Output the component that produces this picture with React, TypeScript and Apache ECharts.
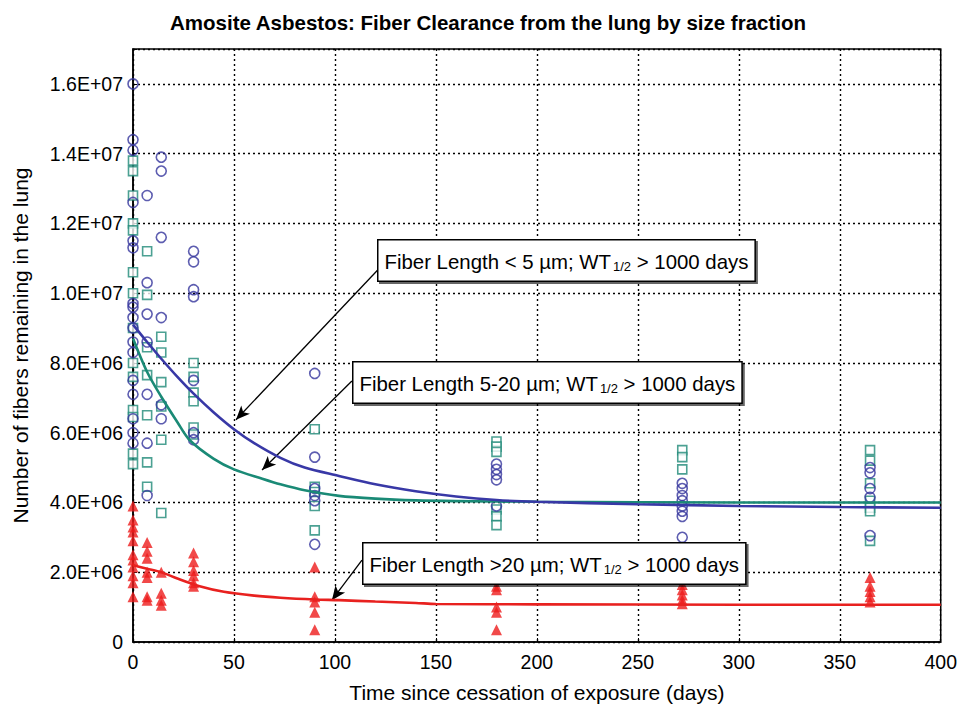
import React, { useEffect, useRef } from "react";
import * as echarts from "echarts";

// Sampling days (days since end of exposure)
const sampleDays = [0, 7, 14, 30, 90, 180, 272, 365];

// Fibers remaining (millions), one list per sampling day
const shortFibers = [
  [16.0, 14.4, 14.1, 12.6, 11.5, 11.3, 9.7, 9.6, 9.3, 9.0, 8.6, 8.3, 7.5, 7.1, 6.4, 6.0, 5.7],
  [12.8, 10.3, 9.4, 8.6, 7.1, 5.7, 4.2],
  [13.9, 13.5, 11.6, 9.3, 6.8, 6.4],
  [11.2, 10.9, 10.1, 9.9, 7.5, 6.0, 5.8],
  [7.7, 5.3, 4.4, 4.2, 4.05, 2.8],
  [5.1, 4.95, 4.8, 4.65, 3.9],
  [4.55, 4.4, 4.2, 4.05, 3.9, 3.75, 3.6, 3.0],
  [5.0, 4.85, 4.4, 4.15, 3.05],
];
const midFibers = [
  [13.8, 13.5, 12.8, 12.0, 11.8, 10.6, 10.0, 9.0, 8.0, 7.6, 6.65, 6.45, 5.4, 5.1],
  [11.2, 9.95, 8.45, 7.65, 6.5, 5.15, 4.45],
  [8.75, 8.3, 7.45, 6.75, 5.8, 3.7],
  [8.0, 7.6, 7.15, 6.9, 6.15, 5.95],
  [6.1, 4.45, 4.3, 3.9, 3.2],
  [5.75, 5.6, 5.45, 3.8, 3.6, 3.35],
  [5.5, 5.3, 4.95],
  [5.5, 5.2, 4.55, 4.05, 3.85, 3.75, 2.9],
];
const longFibers = [
  [3.9, 3.5, 3.3, 3.15, 2.9, 2.5, 2.35, 2.15, 1.9, 1.7, 1.3],
  [2.85, 2.6, 2.4, 2.0, 1.85, 1.3, 1.2],
  [2.0, 1.4, 1.2, 1.05],
  [2.55, 2.3, 2.05, 1.9, 1.7, 1.6],
  [2.15, 1.3, 1.15, 0.85, 0.35],
  [1.6, 1.5, 1.0, 0.85, 0.35],
  [1.65, 1.5, 1.35, 1.2, 1.1],
  [1.85, 1.6, 1.45, 1.3, 1.15],
];

// Fitted clearance curves (millions)
const shortCurveDays = [0, 7, 14, 22, 30, 40, 50, 60, 73, 85, 102, 120, 140, 160, 180, 200, 250, 300, 350, 400];
const shortCurve = [9.1, 8.6, 8.12, 7.6, 7.12, 6.58, 6.1, 5.7, 5.28, 5.0, 4.76, 4.52, 4.32, 4.17, 4.07, 4.02, 3.95, 3.9, 3.87, 3.85];
const midCurveDays = [0, 7, 14, 22, 28, 40, 50, 64, 73, 85, 102, 120, 140, 160, 200, 300, 400];
const midCurve = [8.7, 7.74, 7.03, 6.3, 5.79, 5.25, 4.95, 4.68, 4.52, 4.35, 4.19, 4.11, 4.06, 4.04, 4.02, 4.0, 4.0];
const longCurveDays = [0, 7, 14, 22, 33, 45, 60, 73, 90, 102, 120, 140, 150, 200, 300, 400];
const longCurve = [2.2, 2.1, 2.0, 1.82, 1.6, 1.44, 1.33, 1.27, 1.22, 1.2, 1.16, 1.12, 1.09, 1.08, 1.07, 1.07];

// Annotation arrows: [fromDay, fromValue, toDay, toValue]
const arrows = [
  [121.3, 10.67, 51, 6.37],
  [108.4, 7.48, 63.9, 4.93],
  [113.4, 2.35, 98.5, 1.2],
];

const FONT = "'Liberation Sans', Arial, sans-serif";

function pairs(groups: number[][]) {
  const out: number[][] = [];
  groups.forEach((vals, i) => vals.forEach((v) => out.push([sampleDays[i], v])));
  return out;
}
function curve(days: number[], vals: number[]) {
  return days.map((d, i) => [d, vals[i]]);
}
function sci(v: number) {
  if (v === 0) return "0";
  if (Math.abs(v % 2) > 1e-9) return "";
  const n = v * 1e6;
  const e = Math.floor(Math.log10(n) + 1e-9);
  const m = n / Math.pow(10, e);
  return m.toFixed(1) + "E+" + String(e).padStart(2, "0");
}

function boxText(label: string, left: number, top: number) {
  return {
    type: "text",
    left,
    top,
    z: 100,
    style: {
      text: `{a|${label}}{s|1/2}{a| > 1000 days}`,
      backgroundColor: "#fff",
      borderColor: "#000",
      borderWidth: 1.5,
      padding: [8, 6, 6, 6],
      shadowColor: "rgba(0,0,0,0.6)",
      shadowOffsetX: 2,
      shadowOffsetY: 2,
      rich: {
        a: { fontFamily: FONT, fontSize: 20.4, color: "#000", lineHeight: 26 },
        s: { fontFamily: FONT, fontSize: 13, color: "#000", lineHeight: 26, padding: [10, 0, 0, 2] },
      },
    },
  };
}

export default function App() {
  const ref = useRef<HTMLDivElement>(null);
  useEffect(() => {
    if (!ref.current) return;
    const chart = echarts.init(ref.current, null, { renderer: "svg" });
    const dotted = { color: "#000", width: 1.4, type: [2, 3] as any };
    const lineBase = { type: "line", smooth: 0.3, showSymbol: false, symbol: "none" };
    chart.setOption({
      animation: false,
      backgroundColor: "#fff",
      title: {
        text: "Amosite Asbestos: Fiber Clearance from the lung by size fraction",
        left: 483,
        top: 7,
        textAlign: "center",
        textStyle: { fontFamily: FONT, fontSize: 20.5, fontWeight: "bold", color: "#000" },
      },
      grid: { left: 133, right: 19, top: 49, bottom: 66, show: true, borderColor: "#000", borderWidth: 1.5, backgroundColor: "transparent" },
      xAxis: {
        type: "value",
        min: 0,
        max: 400,
        interval: 50,
        name: "Time since cessation of exposure (days)",
        nameLocation: "middle",
        nameGap: 40,
        nameTextStyle: { fontFamily: FONT, fontSize: 21, color: "#000" },
        axisLine: { show: true, lineStyle: { color: "#000", width: 1.5 } },
        axisTick: { show: true, inside: true, length: 4, lineStyle: { color: "#000" } },
        axisLabel: { fontFamily: FONT, fontSize: 19.5, color: "#000", margin: 10 },
        splitLine: { show: true, lineStyle: dotted },
      },
      yAxis: {
        type: "value",
        min: 0,
        max: 17,
        interval: 2,
        name: "Number of fibers remaining in the lung",
        nameLocation: "middle",
        nameGap: 102,
        nameTextStyle: { fontFamily: FONT, fontSize: 21, color: "#000" },
        axisLine: { show: true, lineStyle: { color: "#000", width: 1.5 } },
        axisTick: { show: true, inside: true, length: 4, lineStyle: { color: "#000" } },
        axisLabel: { fontFamily: FONT, fontSize: 19.5, color: "#000", margin: 10, formatter: (v: number) => sci(v) },
        splitLine: { show: true, lineStyle: dotted },
      },
      series: [
        {
          type: "scatter",
          name: "5-20",
          data: pairs(midFibers),
          symbol: "rect",
          symbolSize: 9,
          itemStyle: { color: "#fff", borderColor: "#1f8a78", borderWidth: 1.6 },
          z: 3,
        },
        {
          type: "scatter",
          name: "<5",
          data: pairs(shortFibers),
          symbol: "circle",
          symbolSize: 10,
          itemStyle: { color: "rgba(255,255,255,0)", borderColor: "#35359c", borderWidth: 1.6 },
          z: 4,
        },
        {
          type: "scatter",
          name: ">20",
          data: pairs(longFibers),
          symbol: "triangle",
          symbolSize: 11,
          itemStyle: { color: "#ee1c1c" },
          z: 4,
        },
        { ...lineBase, data: curve(midCurveDays, midCurve), lineStyle: { color: "#1a8a76", width: 2.6 }, z: 5 },
        { ...lineBase, data: curve(shortCurveDays, shortCurve), lineStyle: { color: "#3838a6", width: 2.6 }, z: 6 },
        { ...lineBase, data: curve(longCurveDays, longCurve), lineStyle: { color: "#e8211f", width: 2.6 }, z: 6 },
        {
          type: "line",
          data: [],
          z: 8,
          markLine: {
            silent: true,
            symbol: ["none", "arrow"],
            symbolSize: [9, 14],
            label: { show: false },
            lineStyle: { color: "#000", width: 1.3, type: "solid" },
            data: arrows.map((a) => [{ coord: [a[0], a[1]] }, { coord: [a[2], a[3]] }]),
          },
        },
      ],
      graphic: [
        boxText("Fiber Length < 5 µm; WT", 377, 239),
        boxText("Fiber Length 5-20 µm; WT", 352, 361),
        boxText("Fiber Length >20 µm; WT", 362, 542),
      ],
    });
    return () => chart.dispose();
  }, []);
  return <div ref={ref} style={{ width: 960, height: 708, position: "absolute", left: 0, top: 0 }} />;
}
